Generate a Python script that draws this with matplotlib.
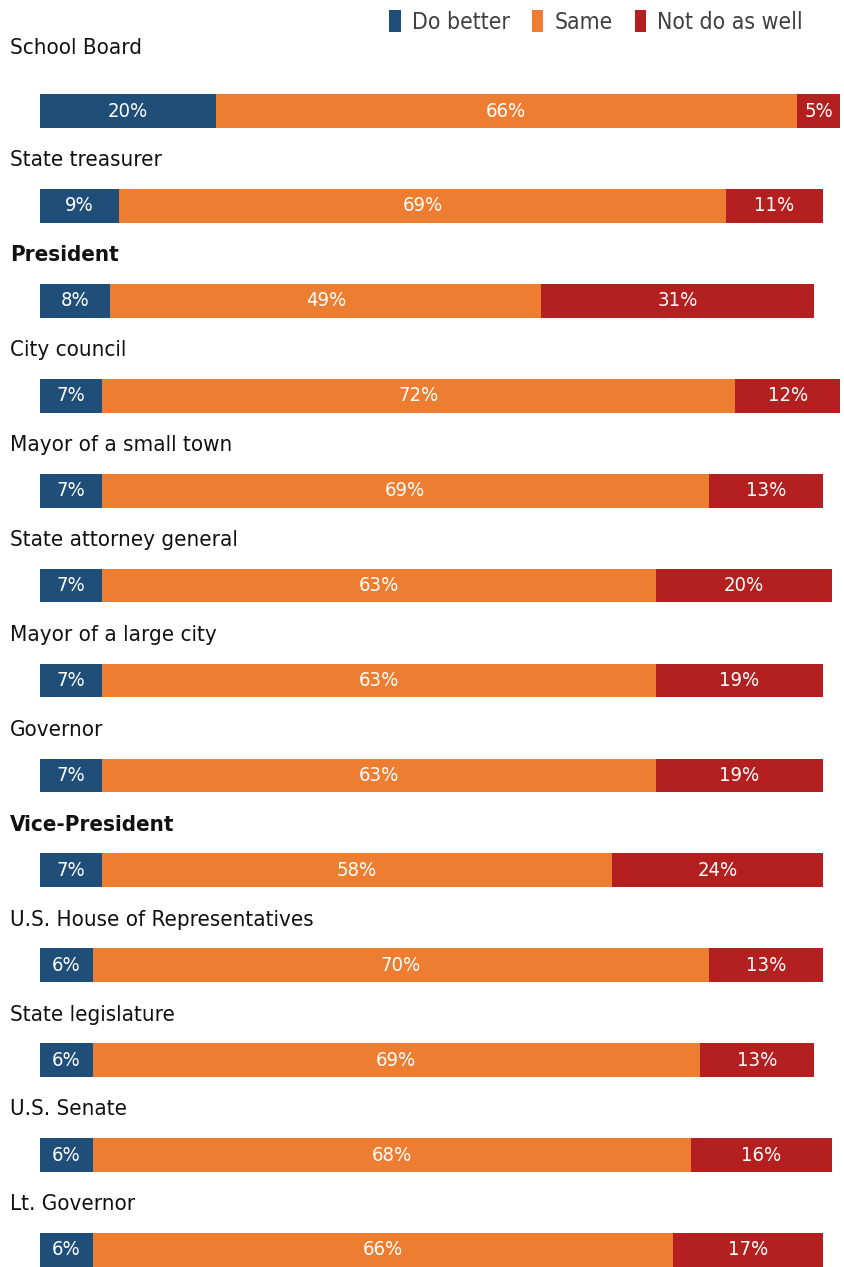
import numpy as np
import matplotlib.pyplot as plt
from matplotlib.patches import Patch

plt.rcParams['font.family'] = ['DejaVu Sans']
plt.rcParams['font.stretch'] = 'condensed'

offices = ['School Board', 'State treasurer', 'President', 'City council',
           'Mayor of a small town', 'State attorney general',
           'Mayor of a large city', 'Governor', 'Vice-President',
           'U.S. House of Representatives', 'State legislature',
           'U.S. Senate', 'Lt. Governor']
do_better = [20, 9, 8, 7, 7, 7, 7, 7, 7, 6, 6, 6, 6]
same = [66, 69, 49, 72, 69, 63, 63, 63, 58, 70, 69, 68, 66]
not_as_well = [5, 11, 31, 12, 13, 20, 19, 19, 24, 13, 13, 16, 17]
bold_rows = ['President', 'Vice-President']

series = [('Do better', do_better, '#1F4E79'),
          ('Same', same, '#ED7D31'),
          ('Not do as well', not_as_well, '#B41F1F')]

fig = plt.figure(figsize=(8.44, 12.67), dpi=100)
ax = fig.add_axes([0, 0, 1, 1])
ax.set_xlim(-4.55, 91.4)
ax.set_ylim(12.18, -1.17)
ax.axis('off')

y = np.arange(len(offices))
left = np.zeros(len(offices))
for name, vals, color in series:
    vals = np.array(vals, dtype=float)
    ax.barh(y, vals, left=left, height=0.355, color=color, edgecolor='none')
    for yi, l, v in zip(y, left, vals):
        ax.text(l + v / 2, yi, f'{int(v)}%', ha='center', va='center',
                color='white', fontsize=14.5)
    left += vals

for i, name in enumerate(offices):
    offset = 0.66 if i == 0 else 0.48
    ax.text(-3.4, y[i] - offset, name, ha='left', va='center', fontsize=16,
            color='#111111',
            fontweight='bold' if name in bold_rows else 'normal')

handles = [Patch(facecolor=c, edgecolor='none', label=n) for n, _, c in series]
fig.legend(handles=handles, loc='upper right', bbox_to_anchor=(0.976, 1.008),
           ncol=3, frameon=False, fontsize=16.5, handlelength=0.5,
           handleheight=1.1, handletextpad=0.5, columnspacing=0.95,
           labelcolor='#404040')

fig.savefig('out.png', dpi=100)
